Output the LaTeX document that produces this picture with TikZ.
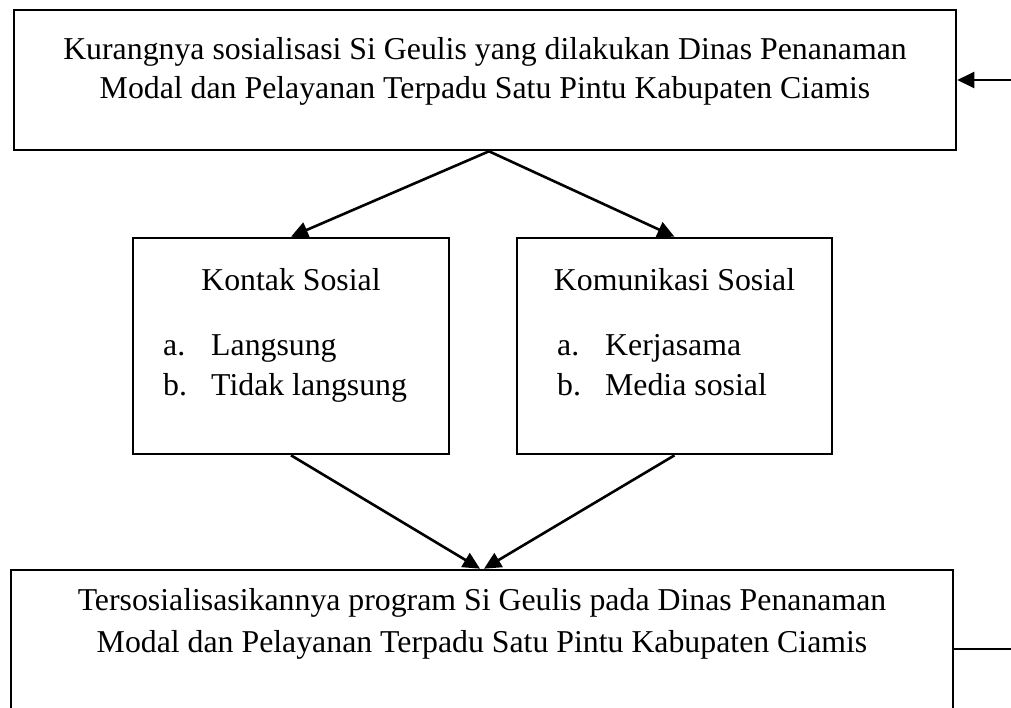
\documentclass[tikz,border=0pt]{standalone}
\usepackage{fontspec}
\setmainfont{Liberation Serif}
\usetikzlibrary{arrows.meta}
\begin{document}
\begin{tikzpicture}[x=1pt,y=-1pt,
  box/.style={draw,line width=2.6pt,rectangle,inner sep=0pt},
  txt/.style={font=\fontsize{31.8}{38.5}\selectfont,inner sep=0pt,anchor=base},
  lft/.style={txt,anchor=base west},
  arr/.style={line width=2.6pt,-{Triangle[length=17pt,width=16pt]}}]
\clip (0,0) rectangle (1011,707);
% boxes
\node[box,minimum width=942pt,minimum height=140pt] (top) at (485,80) {};
\node[box,minimum width=316pt,minimum height=216pt] (ks) at (291,346) {};
\node[box,minimum width=315pt,minimum height=216pt] (km) at (674.5,346) {};
\node[box,minimum width=942pt,minimum height=190pt] (bot) at (482,665) {};
% texts
\node[txt] (t1) at (485,59.5) {Kurangnya sosialisasi Si Geulis yang dilakukan Dinas Penanaman};
\node[txt] (t2) at (485,98) {Modal dan Pelayanan Terpadu Satu Pintu Kabupaten Ciamis};
\node[txt] (kst) at (291,290) {Kontak Sosial};
\node[lft] (ksa) at (163,355) {a.};
\node[lft] (ksat) at (211,355) {Langsung};
\node[lft] (ksb) at (163,395) {b.};
\node[lft] (ksbt) at (211,395) {Tidak langsung};
\node[txt] (kmt) at (674.5,290) {Komunikasi Sosial};
\node[lft] (kma) at (557,355) {a.};
\node[lft] (kmat) at (605,355) {Kerjasama};
\node[lft] (kmb) at (557,395) {b.};
\node[lft] (kmbt) at (605,395) {Media sosial};
\node[txt] (b1) at (482,610) {Tersosialisasikannya program Si Geulis pada Dinas Penanaman};
\node[txt] (b2) at (482,652) {Modal dan Pelayanan Terpadu Satu Pintu Kabupaten Ciamis};
% connectors
\draw[arr] ([xshift=4pt]top.south) -- (ks.north);
\draw[arr] ([xshift=4pt]top.south) -- (km.north);
\draw[arr] (ks.south) -- ([xshift=-2pt]bot.north);
\draw[arr] (km.south) -- ([xshift=2pt]bot.north);
\coordinate (r1) at (1011,80);
\draw[arr] (r1) -- (top.east);
\coordinate (r2) at (1011,649);
\draw[line width=1.8pt] (bot.east |- r2) -- (r2);
\end{tikzpicture}
\end{document}
